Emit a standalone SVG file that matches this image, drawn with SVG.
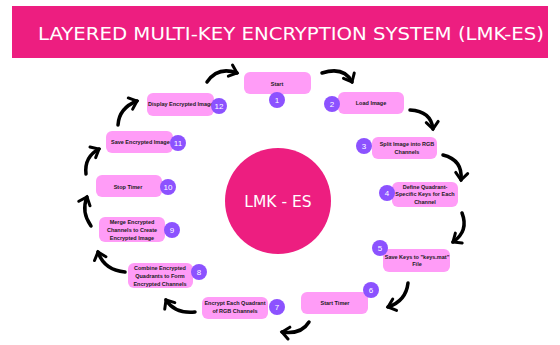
<svg xmlns="http://www.w3.org/2000/svg" width="560" height="345" viewBox="0 0 560 345">
<style>
.node{fill:#ff9cf7}
.badge{fill:#8c52ff}
.bn{font-family:"Liberation Sans",Arial,sans-serif;font-size:8px;fill:#fff;text-anchor:middle}
.t{font-family:"Liberation Sans",Arial,sans-serif;font-size:5.5px;font-weight:bold;fill:#1a1a1a;text-anchor:middle}
.ts{font-family:"Liberation Sans",Arial,sans-serif;font-size:5.5px;font-weight:bold;fill:#1a1a1a}
.arr{fill:none;stroke:#000;stroke-width:3.5;stroke-linecap:round;marker-end:url(#ah)}
</style>
<defs>
<marker id="ah" markerUnits="userSpaceOnUse" viewBox="-9 -8 12 16" refX="0" refY="0" markerWidth="12" markerHeight="16" orient="auto">
<path d="M-7,-6 L0,0 L-7,6" fill="none" stroke="#000" stroke-width="3" stroke-linecap="round" stroke-linejoin="miter"/>
</marker>
</defs>
<rect width="560" height="345" fill="#fff"/>
<g id="title">
<rect x="12" y="6" width="536" height="52" fill="#ed1e80"/>
<text x="38" y="40" font-family="'DejaVu Sans Condensed','Liberation Sans Narrow','Liberation Sans',sans-serif" font-size="18" fill="#fff" textLength="506" lengthAdjust="spacingAndGlyphs">LAYERED MULTI-KEY ENCRYPTION SYSTEM (LMK-ES)</text>
</g>
<g id="center">
<circle cx="278" cy="201" r="53" fill="#ed1e80"/>
<text x="278" y="207" font-family="'DejaVu Sans','Liberation Sans',sans-serif" font-size="15.5" fill="#fff" text-anchor="middle">LMK - ES</text>
</g>
<g id="connectors">
<path class="arr" d="M207,82 Q218,66 237,73"/>
<path class="arr" d="M322,73 Q344,66 352,82"/>
<path class="arr" d="M410,110 Q431,111 433,129"/>
<path class="arr" d="M443,155 Q463,160 461,180"/>
<path class="arr" d="M462,213 Q469,231 453,242"/>
<path class="arr" d="M408,283 Q406,301 388,307"/>
<path class="arr" d="M309,322 Q301,335 282,332"/>
<path class="arr" d="M195,312 Q175,314 166,300"/>
<path class="arr" d="M125,272 Q104,270 98,252"/>
<path class="arr" d="M91,226 Q81,212 87,197"/>
<path class="arr" d="M86,174 Q84,157 99,149"/>
<path class="arr" d="M118,125 Q119,108 137,101"/>
</g>
<g id="n1">
<rect class="node" x="244" y="72" width="67" height="22" rx="6"/>
<text class="t" x="277" y="86">Start</text>
<circle class="badge" cx="277" cy="100" r="8"/><text class="bn" x="277" y="103">1</text>
</g>
<g id="n2">
<rect class="node" x="338" y="92" width="66" height="22" rx="6"/>
<text class="t" x="371" y="105">Load Image</text>
<circle class="badge" cx="332" cy="104" r="8"/><text class="bn" x="332" y="107">2</text>
</g>
<g id="n3">
<rect class="node" x="372" y="137" width="65" height="22" rx="6"/>
<text class="t" x="407" y="146">Split Image into RGB</text>
<text class="t" x="407" y="154">Channels</text>
<circle class="badge" cx="364" cy="146" r="8"/><text class="bn" x="364" y="149">3</text>
</g>
<g id="n4">
<rect class="node" x="392" y="182" width="66" height="25" rx="6"/>
<text class="t" x="425" y="189">Define Quadrant-</text>
<text class="t" x="425" y="196">Specific Keys for Each</text>
<text class="t" x="425" y="204">Channel</text>
<circle class="badge" cx="387" cy="193" r="8"/><text class="bn" x="387" y="196">4</text>
</g>
<g id="n5">
<rect class="node" x="383" y="249" width="67" height="23" rx="6"/>
<text class="t" x="417" y="259">Save Keys to "keys.mat"</text>
<text class="t" x="417" y="266">File</text>
<circle class="badge" cx="380" cy="248" r="8"/><text class="bn" x="380" y="251">5</text>
</g>
<g id="n6">
<rect class="node" x="301" y="292" width="67" height="22" rx="6"/>
<text class="t" x="335" y="305">Start Timer</text>
<circle class="badge" cx="371" cy="290" r="8"/><text class="bn" x="371" y="293">6</text>
</g>
<g id="n7">
<rect class="node" x="202" y="297" width="66" height="22" rx="6"/>
<text class="t" x="235" y="305">Encrypt Each Quadrant</text>
<text class="t" x="235" y="313">of RGB Channels</text>
<circle class="badge" cx="277" cy="307" r="8"/><text class="bn" x="277" y="310">7</text>
</g>
<g id="n8">
<rect class="node" x="128" y="263" width="65" height="25" rx="6"/>
<text class="t" x="160" y="270">Combine Encrypted</text>
<text class="t" x="160" y="278">Quadrants to Form</text>
<text class="t" x="160" y="286">Encrypted Channels</text>
<circle class="badge" cx="199" cy="272" r="8"/><text class="bn" x="199" y="275">8</text>
</g>
<g id="n9">
<rect class="node" x="99" y="217" width="66" height="25" rx="6"/>
<text class="t" x="132" y="224">Merge Encrypted</text>
<text class="t" x="132" y="232">Channels to Create</text>
<text class="t" x="132" y="240">Encrypted Image</text>
<circle class="badge" cx="172" cy="230" r="8"/><text class="bn" x="172" y="233">9</text>
</g>
<g id="n10">
<rect class="node" x="96" y="175" width="66" height="22" rx="6"/>
<text class="t" x="128" y="189">Stop Timer</text>
<circle class="badge" cx="168" cy="187" r="8"/><text class="bn" x="168" y="190">10</text>
</g>
<g id="n11">
<rect class="node" x="106" y="131" width="67" height="22" rx="6"/>
<text class="ts" x="111" y="144">Save Encrypted Image</text>
<circle class="badge" cx="178" cy="143" r="8"/><text class="bn" x="178" y="146">11</text>
</g>
<g id="n12">
<rect class="node" x="147" y="93" width="67" height="23" rx="6"/>
<text class="ts" x="148" y="106">Display Encrypted Image</text>
<circle class="badge" cx="219" cy="106" r="8"/><text class="bn" x="219" y="109">12</text>
</g>
</svg>
